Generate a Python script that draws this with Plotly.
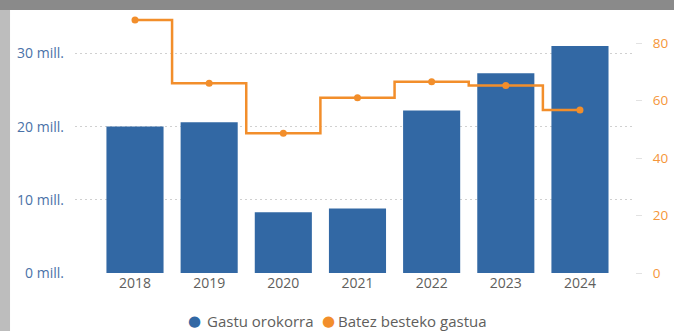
import plotly.graph_objects as go

# Yearly totals (bars, in millions) and average spend (step line, right axis)
years = ["2018", "2019", "2020", "2021", "2022", "2023", "2024"]
gastu_orokorra = [20.0, 20.6, 8.3, 8.8, 22.2, 27.3, 31.0]
batez_besteko = [88.0, 66.0, 48.6, 61.0, 66.5, 65.2, 56.7]

series_names = ["Gastu orokorra", "Batez besteko gastua"]
left_ticks = [0, 10, 20, 30]
left_labels = ["0 mill.", "10 mill.", "20 mill.", "30 mill."]
right_ticks = [0, 20, 40, 60, 80]

BLUE = "#3268A4"
ORANGE = "#F28E2B"
GRID = "#D0D0D0"
FONT = "Open Sans, Noto Sans, sans-serif"

fig = go.Figure()

fig.add_trace(go.Bar(
    x=years, y=gastu_orokorra, name=series_names[0],
    marker=dict(color=BLUE, line=dict(width=0)),
    showlegend=False, yaxis="y",
))

fig.add_trace(go.Scatter(
    x=years, y=batez_besteko, name=series_names[1],
    mode="lines+markers", line=dict(color=ORANGE, width=2.5, shape="hvh"),
    marker=dict(color=ORANGE, size=7),
    showlegend=False, yaxis="y2",
))

# Compact legend below the plot: a coloured dot, then the series name
dot_x = [0.2133, 0.4527]
text_x = [0.2339, 0.4679]
legend_y = -0.183
for name, col, dx, tx in zip(series_names, [BLUE, ORANGE], dot_x, text_x):
    fig.add_annotation(
        xref="paper", yref="paper", x=dx, y=legend_y,
        xanchor="center", yanchor="middle", showarrow=False, borderpad=0,
        text="●", font=dict(family="DejaVu Sans", size=15, color=col),
    )
    fig.add_annotation(
        xref="paper", yref="paper", x=tx, y=legend_y,
        xanchor="left", yanchor="middle", showarrow=False, borderpad=0,
        text=name, font=dict(family=FONT, size=15, color="#605E5C"),
    )

fig.update_layout(
    width=674, height=331,
    margin=dict(l=75, r=39, t=10, b=58, autoexpand=False),
    paper_bgcolor="white", plot_bgcolor="white",
    font=dict(family=FONT, size=12, color="#605E5C"),
    bargap=0.23,
    showlegend=False,
    xaxis=dict(
        type="category", range=[-0.809, 6.742], automargin=False,
        showgrid=False, zeroline=False, showline=False, ticks="",
        tickfont=dict(size=14, color="#605E5C"),
    ),
    yaxis=dict(
        range=[0, 35.93], tickvals=left_ticks, ticktext=left_labels,
        automargin=False,
        showgrid=True, gridcolor=GRID, griddash="2px,3px", gridwidth=1,
        zeroline=False, showline=False, ticks="",
        tickfont=dict(size=14, color="#4A72A8"),
        ticklabelstandoff=10,
    ),
    yaxis2=dict(
        range=[0, 91.5], tickvals=right_ticks, overlaying="y", side="right",
        automargin=False,
        showgrid=False, zeroline=False, showline=False,
        ticks="outside", ticklen=6, tickcolor="#E2E2E2",
        tickfont=dict(size=13.5, color="#F5963A"),
        ticklabelstandoff=8,
    ),
    shapes=[
        # card shadow along the top and left edges
        dict(type="rect", xref="paper", yref="paper",
             x0=-0.14, x1=1.08, y0=1.0, y1=1.06,
             fillcolor="#8A8A8A", line=dict(width=0), layer="above"),
        dict(type="rect", xref="paper", yref="paper",
             x0=-0.14, x1=-0.116, y0=-0.23, y1=1.0,
             fillcolor="#BDBDBD", line=dict(width=0), layer="above"),
    ],
)

fig.write_html("out.html")
